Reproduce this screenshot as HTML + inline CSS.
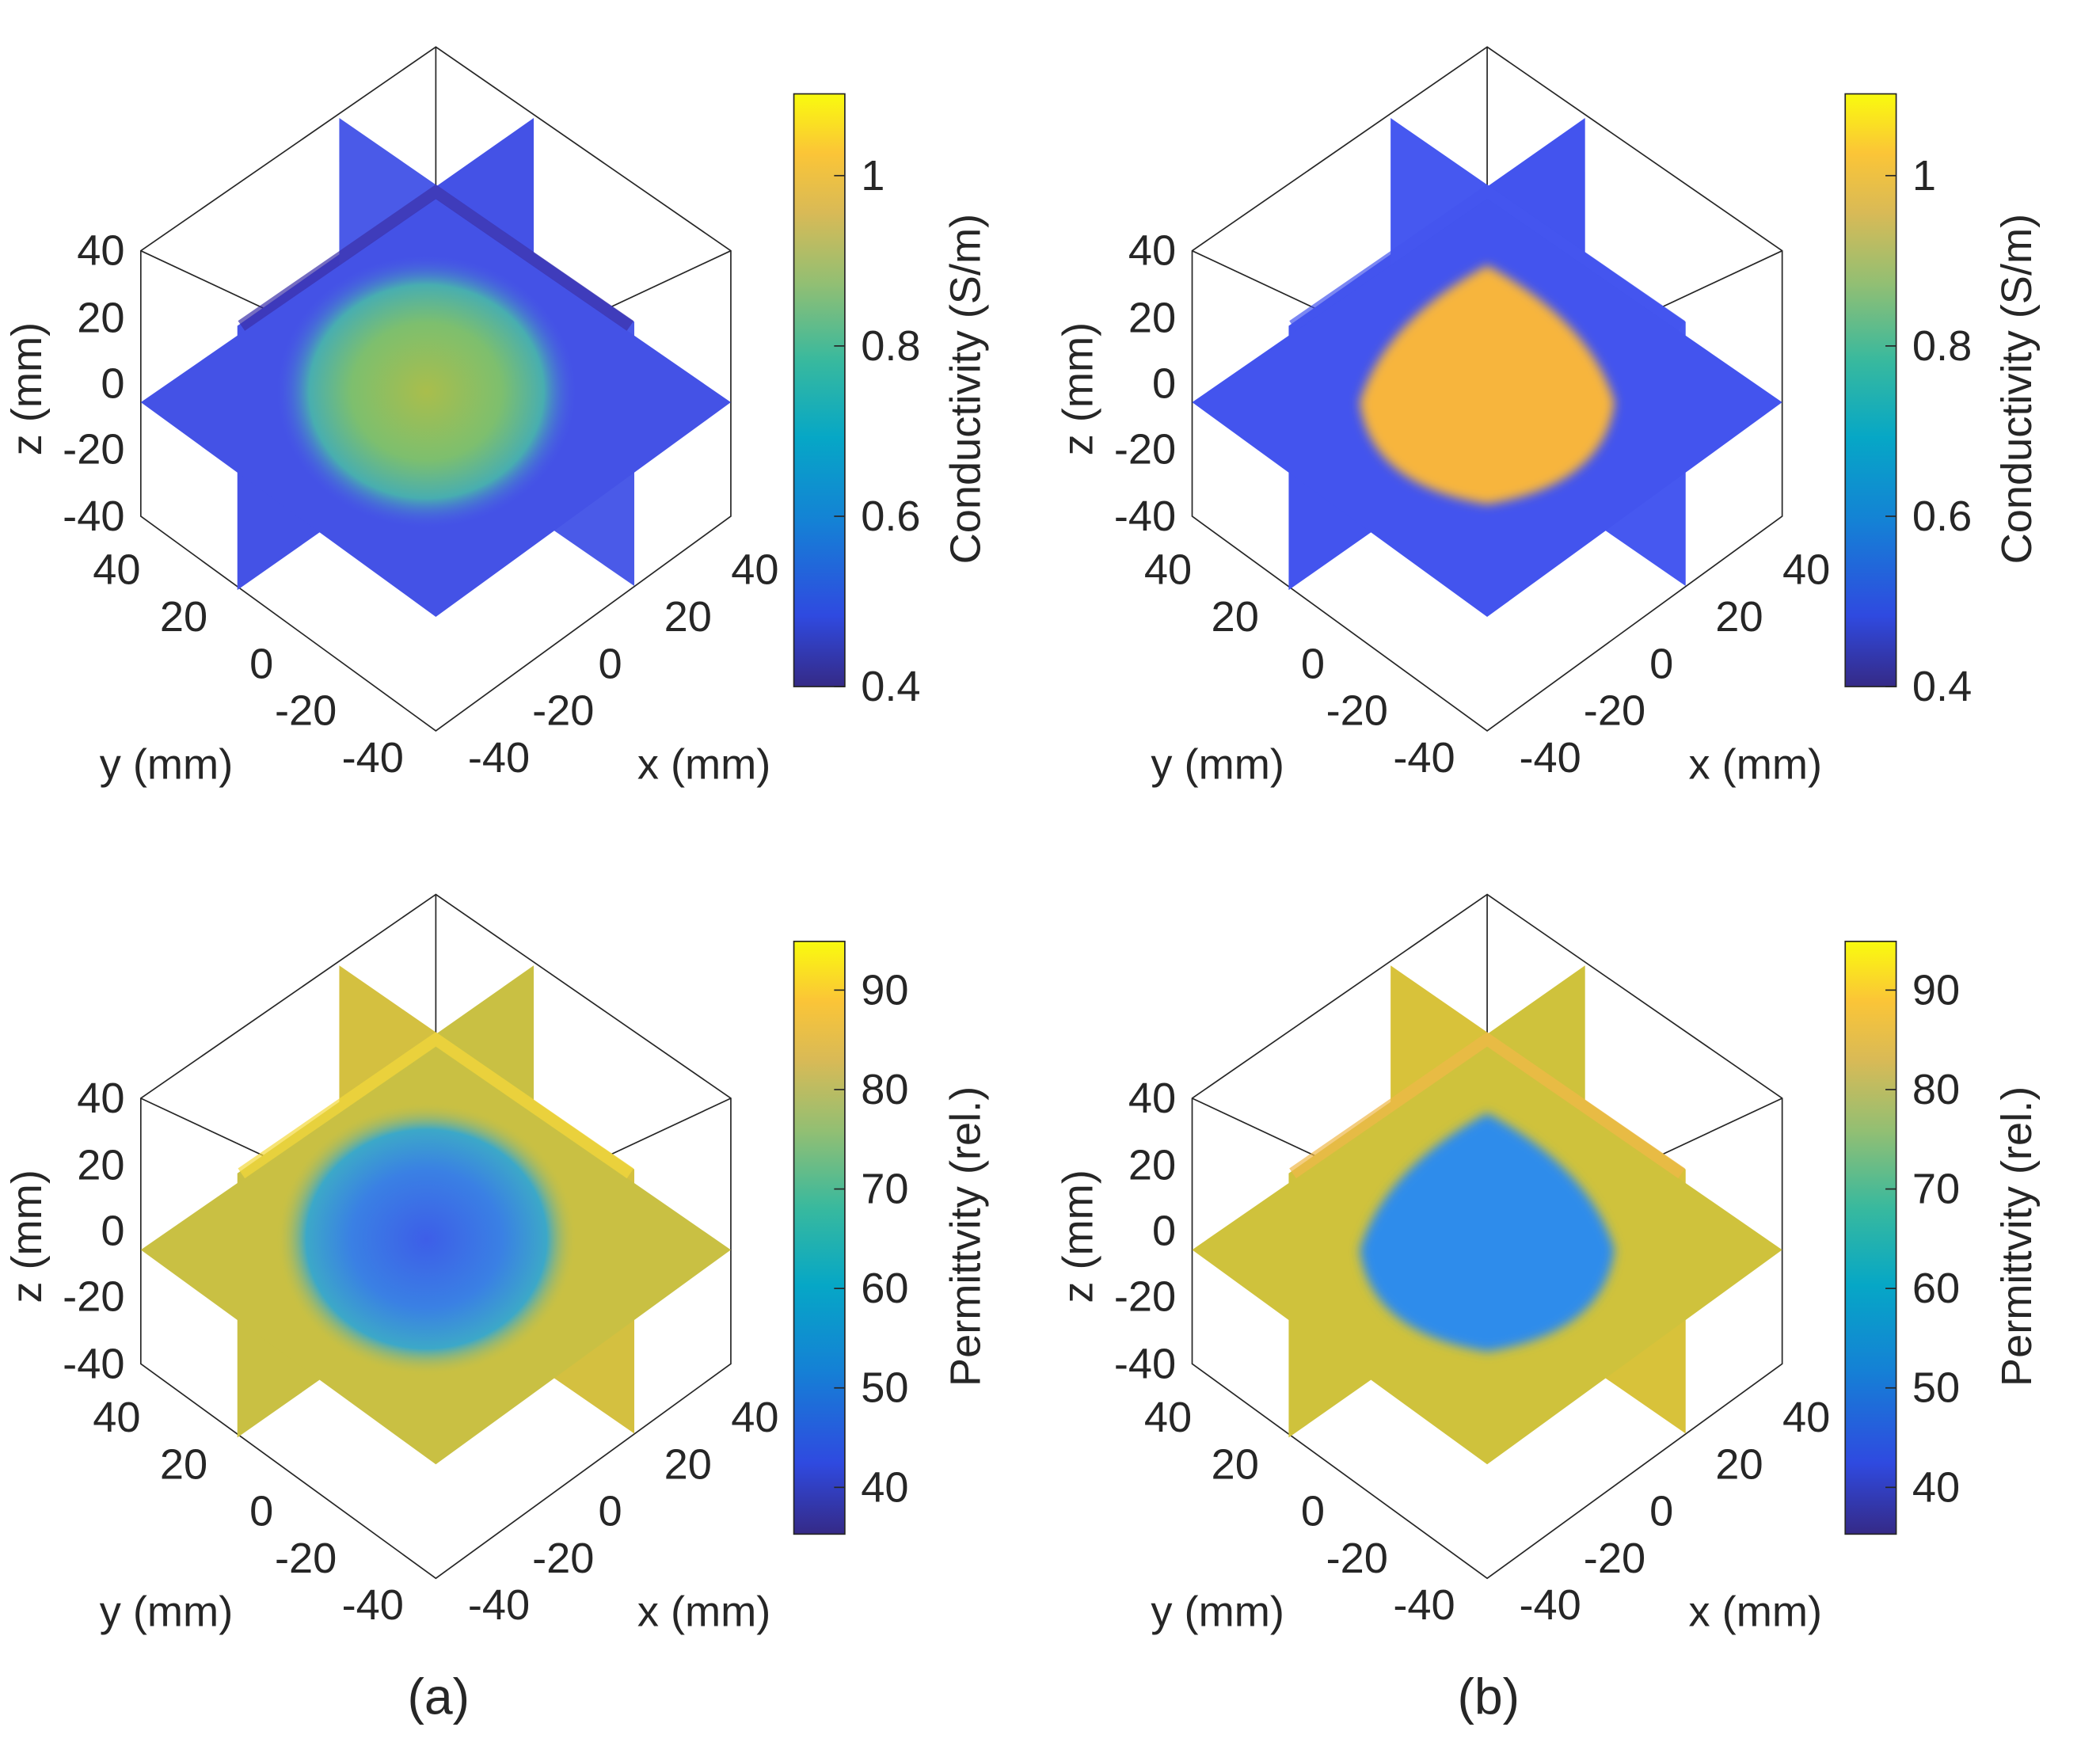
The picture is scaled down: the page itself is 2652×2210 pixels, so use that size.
<!DOCTYPE html>
<html><head><meta charset="utf-8">
<style>
html,body{margin:0;padding:0;background:#fff;}
svg{display:block;}
text{font-family:"Liberation Sans","DejaVu Sans",sans-serif;fill:#262626;}
</style></head>
<body>
<svg id="fig" width="2652" height="2210" viewBox="0 0 1566 1305" preserveAspectRatio="none" xmlns="http://www.w3.org/2000/svg">
<defs>
<linearGradient id="parula" x1="0" y1="1" x2="0" y2="0">
<stop offset="0" stop-color="#352a87"/><stop offset="0.12" stop-color="#2f4ae0"/>
<stop offset="0.28" stop-color="#1482d5"/><stop offset="0.42" stop-color="#06a7c6"/>
<stop offset="0.55" stop-color="#38b99e"/><stop offset="0.68" stop-color="#92bf73"/>
<stop offset="0.8" stop-color="#d9ba56"/><stop offset="0.9" stop-color="#fbc537"/>
<stop offset="1" stop-color="#f9fb0e"/>
</linearGradient>
<radialGradient id="blobA1" cx="0.5" cy="0.5" r="0.5">
<stop offset="0" stop-color="#a9be4c"/><stop offset="0.5" stop-color="#7dbf6e"/>
<stop offset="0.78" stop-color="#48aeb0"/><stop offset="1" stop-color="#4a5ae8" stop-opacity="0"/>
</radialGradient>
<radialGradient id="blobA2" cx="0.5" cy="0.5" r="0.5">
<stop offset="0" stop-color="#3d5ee8"/><stop offset="0.5" stop-color="#3a80e4"/>
<stop offset="0.8" stop-color="#3ca8c8"/><stop offset="1" stop-color="#c8c040" stop-opacity="0"/>
</radialGradient>
<filter id="blur4"><feGaussianBlur stdDeviation="4"/></filter>
</defs>
<g id="root"></g>
</svg>
<script>
const condTicks=[0.4,0.6,0.8,1];
const condRange=[0.4,1.096];
const permTicks=[40,50,60,70,80,90];
const permRange=[35.3,94.9];
const axisTicks=[40,20,0,-20,-40];
const panelLabels=["(a)","(b)"];
const NS="http://www.w3.org/2000/svg";
const root=document.getElementById('root');
const FS=32;
function el(tag,attrs,parent){const e=document.createElementNS(NS,tag);for(const k in attrs)e.setAttribute(k,attrs[k]);(parent||root).appendChild(e);return e;}
function txt(s,x,y,size,anchor,parent,rot){const t=el('text',{x:x,y:y,'font-size':size,'text-anchor':anchor||'middle','dominant-baseline':'central'},parent);if(rot)t.setAttribute('transform','rotate(-90 '+x+' '+y+')');t.textContent=s;return t;}

function panel(dx,dy,cfg){
 const g=el('g',{transform:'translate('+dx+','+dy+')'});
 
 
 const box=el('path',{d:'M325,35 L105,187 L105,385 L325,545 L545,385 L545,187 Z M325,35 L325,290 M105,187 L325,290 M545,187 L325,290',fill:'none',stroke:'#262626','stroke-width':1},g);
 
 
 const pA=el('polygon',{points:'177,243 398,88 398,285 177,440',fill:cfg.plane},g);
 
 
 const pB=el('polygon',{points:'253,88 473,240 473,437 253,285',fill:cfg.plane2},g);
 
 
 const pC=el('polygon',{points:'105,300 325,148 545,300 325,460',fill:cfg.plane},g);
 
 
 const st=el('path',{d:'M180,243 L325,143 L470,243',fill:'none',stroke:cfg.stripe,'stroke-width':9,opacity:0.7},g);
 
 
 let blob;
 if(cfg.sharp){
  blob=el('path',{d:'M325,198 Q248,240 230,300 Q238,362 325,376 Q412,362 420,300 Q402,240 325,198 Z',fill:cfg.blob,filter:'url(#blur4)'},g);
 }else{
  blob=el('ellipse',{cx:318,cy:292,rx:112,ry:102,fill:cfg.blob},g);
 }
 
 
 const zy=[187,237,286,335,385];
 axisTicks.forEach((v,i)=>{const t=txt(String(v),93,zy[i],FS,'end',g);
  
  });
 const yx=[[87,425],[137,460],[195,495],[228,530],[278,565]];
 axisTicks.forEach((v,i)=>{const t=txt(String(v),yx[i][0],yx[i][1],FS,'middle',g);
  
  });
 const xx=[[563,425],[513,460],[455,495],[420,530],[372,565]];
 axisTicks.forEach((v,i)=>{const t=txt(String(v),xx[i][0],xx[i][1],FS,'middle',g);
  
  });
 const zt=txt('z (mm)',20,290,FS,'middle',g,true);
 
 
 const yt=txt('y (mm)',124,570,FS,'middle',g);
 
 
 const xt=txt('x (mm)',525,570,FS,'middle',g);
 
 
 const cb=el('rect',{x:592,y:70,width:38,height:442,fill:'url(#parula)',stroke:'#262626','stroke-width':1},g);
 
 
 const [lo,hi]=cfg.range;
 cfg.ticks.forEach(v=>{
  const y=512-(v-lo)/(hi-lo)*442;
  el('line',{x1:622,x2:630,y1:y,y2:y,stroke:'#262626','stroke-width':1},g);
  const t=txt(String(v),642,y,FS,'start',g);
  
  
 });
 const ct=txt(cfg.label,720,290,FS,'middle',g,true);
 
 
}
const condA={name:'conductivity-panel-a',plane:'#4452e6',plane2:'#4a5ae8',stripe:'#3a2fa8',blob:'url(#blobA1)',sharp:false,ticks:condTicks,range:condRange,label:'Conductivity (S/m)'};
const condB={name:'conductivity-panel-b',plane:'#4354ee',plane2:'#4658f0',stripe:'#4354ee',blob:'#f7b53c',sharp:true,ticks:condTicks,range:condRange,label:'Conductivity (S/m)'};
const permA={name:'permittivity-panel-a',plane:'#c9c043',plane2:'#d4c040',stripe:'#f4d83a',blob:'url(#blobA2)',sharp:false,ticks:permTicks,range:permRange,label:'Permittvity (rel.)'};
const permB={name:'permittivity-panel-b',plane:'#cfc23c',plane2:'#d8c23a',stripe:'#f0b848',blob:'#2f8ceb',sharp:true,ticks:permTicks,range:permRange,label:'Permittvity (rel.)'};
panel(0,0,condA);
panel(784,0,condB);
panel(0,632,permA);
panel(784,632,permB);
const la=txt(panelLabels[0],327,1265,38,'middle');


const lb=txt(panelLabels[1],1110,1265,38,'middle');


</script>
</body></html>
